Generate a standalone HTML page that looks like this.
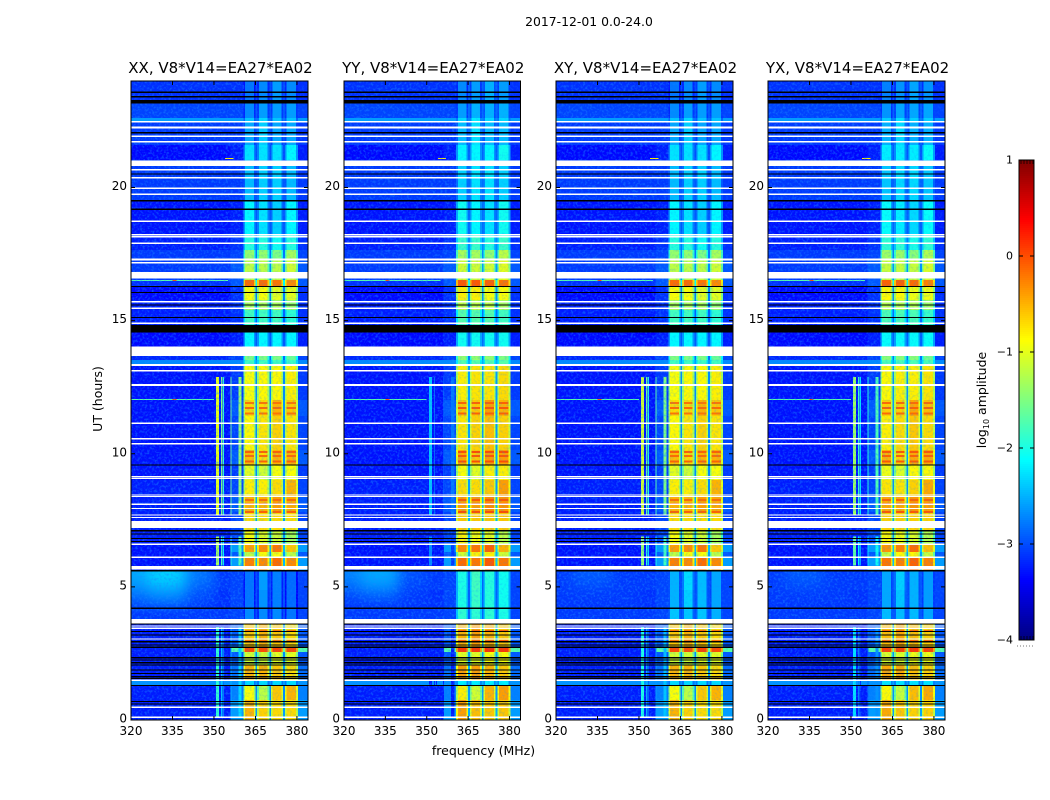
<!DOCTYPE html>
<html>
<head>
<meta charset="utf-8">
<title>2017-12-01 0.0-24.0</title>
<style>
html,body{margin:0;padding:0;background:#fff;}
svg{display:block;font-family:"DejaVu Sans","Liberation Sans",sans-serif;fill:#000;}
</style>
</head>
<body>
<svg id="figure" xmlns="http://www.w3.org/2000/svg" width="1050" height="800" viewBox="0 0 1050 800">
<defs id="defs">
<filter id="speckle" x="0" y="0" width="100%" height="100%" color-interpolation-filters="sRGB">
<feTurbulence type="fractalNoise" baseFrequency="0.42" numOctaves="2" seed="7"/>
<feColorMatrix type="matrix" values="0 0 0 0 0.1  0 0 0 0 0.55  0 0 0 0 1  3.4 0 0 0 -1.55"/>
</filter>
<filter id="soften" x="-20%" y="-20%" width="140%" height="140%" color-interpolation-filters="sRGB">
<feGaussianBlur stdDeviation="7"/>
</filter>
</defs>
<text x="589" y="26" font-size="12.4" text-anchor="middle">2017-12-01 0.0-24.0</text>
<text x="483.500" y="755" font-size="12.500" text-anchor="middle">frequency (MHz)</text>
<text x="0" y="0" font-size="12.500" text-anchor="middle" transform="translate(102,399) rotate(-90)">UT (hours)</text>
<text x="0" y="0" font-size="12.500" text-anchor="middle" transform="translate(986,400) rotate(-90)">log<tspan font-size="8" dy="3">10</tspan><tspan dy="-3"> amplitude</tspan></text>
<g id="panels"></g>
<g id="colorbar"></g>
</svg>
<script>
// ---------- chart data ----------
const panelTitles = ["XX, V8*V14=EA27*EA02", "YY, V8*V14=EA27*EA02", "XY, V8*V14=EA27*EA02", "YX, V8*V14=EA27*EA02"];
const xTickValues = [320, 335, 350, 365, 380];
const yTickValues = [0, 5, 10, 15, 20];
const colorbarTicks = [1, 0, -1, -2, -3, -4];
const colorbarTickLabels = ["1", "0", "\u22121", "\u22122", "\u22123", "\u22124"];

// log10 amplitude per UT band (upper hour of each band; the next entry is its lower hour)
const bandTopHours = [
  24.00, 23.29, 22.61, 22.50, 21.60, 21.03, 19.53, 18.22, 17.65, 17.28,
  16.53, 16.26, 15.77, 15.40, 14.84, 13.67, 13.52, 13.37, 12.02, 11.42,
  10.14, 9.58, 9.01, 8.38, 7.81, 7.14, 6.61, 6.31, 6.08, 5.60,
  4.88, 4.21, 3.61, 2.74, 2.55, 2.07, 1.46, 1.30, 0.75];
const backgroundLevel = [
  -3.15, -3.05, -2.6, -3.1, -3.35, -3.1, -3.3, -3.25, -3.1, -3.1,
  -3.15, -3.35, -3.25, -3.25, -3.35, -3.2, -2.7, -3.3, -3.3, -3.3,
  -3.3, -3.3, -3.25, -3.25, -3.25, -3.25, -3.3, -3.3, -3.3, -3.1,
  -3.15, -3.1, -3.25, -3.25, -3.25, -3.25, -2.65, -3.25, -3.25];
const shoulderLevel = [
  -3.15, -3.05, -2.6, -3.1, -3.25, -3.1, -3.25, -3.15, -3.05, -2.95,
  -2.95, -3.15, -3.15, -3.15, -3.25, -3.05, -2.7, -3.1, -2.95, -3.05,
  -2.95, -3.1, -3.05, -2.95, -3.05, -3.05, -2.6, -2.95, -2.6, -3.05,
  -3.05, -3.05, -2.95, -1.7, -2.95, -2.85, -2.65, -2.75, -2.6];
const coreALevel = [
  -2.8, -2.7, -2.4, -2.55, -2.25, -2.45, -2.15, -1.95, -1.4, -1.2,
  -0.15, -0.9, -1.3, -1.8, -2.15, -1.5, -1.8, -0.9, -0.7, -0.85,
  -0.55, -1.0, -0.8, -0.5, -0.7, -0.9, -0.4, -1.2, -0.25, -2.8,
  -2.8, -2.7, -0.6, 0.0, -1.1, -0.5, -2.3, -0.9, -0.5];
const coreBLevel = [
  -2.7, -2.6, -2.3, -2.35, -2.25, -2.35, -2.25, -1.95, -1.4, -1.2,
  -0.15, -0.9, -1.3, -1.8, -2.15, -1.5, -1.8, -0.85, -0.7, -0.75,
  -0.7, -1.1, -0.8, -0.5, -0.7, -1.0, -0.3, -0.9, -0.3, -2.6,
  -2.65, -2.7, -0.5, 0.0, -1.1, -0.5, -2.3, -1.2, -0.65];
const coreCLevel = [
  -2.6, -2.6, -2.4, -2.55, -2.25, -2.35, -2.35, -2.05, -1.5, -1.2,
  -0.2, -1.0, -1.3, -1.8, -2.15, -1.5, -1.8, -0.85, -0.5, -0.65,
  -0.5, -0.9, -0.7, -0.4, -0.7, -1.1, -0.2, -0.9, -0.15, -2.75,
  -2.75, -2.7, -0.6, 0.05, -1.0, -0.6, -2.3, -0.6, -0.7];
const coreDLevel = [
  -2.7, -2.6, -2.4, -2.55, -2.15, -2.45, -2.15, -1.95, -1.3, -1.1,
  -0.3, -1.0, -1.4, -1.9, -2.15, -1.6, -1.8, -0.8, -0.6, -0.75,
  -0.5, -0.9, -0.5, -0.45, -0.7, -1.3, -0.6, -1.2, -0.3, -2.85,
  -2.85, -2.8, -0.7, 0.0, -1.0, -0.7, -2.3, -0.5, -0.7];
const gapLevel = [
  -3.0, -2.95, -2.8, -2.95, -3.0, -2.95, -2.95, -2.8, -2.8, -2.7,
  -2.1, -2.75, -2.85, -2.9, -2.95, -2.85, -2.6, -2.7, -2.65, -2.7,
  -2.65, -2.7, -2.7, -2.55, -2.6, -2.65, -2.45, -2.6, -2.45, -3.0,
  -3.0, -3.0, -2.65, -1.6, -2.7, -2.6, -2.6, -2.7, -2.6];

// per-correlation offsets (XX, YY, XY, YX)
const panelCoreOffset = [0, 0.1, 0, 0.05];
const panelRfiOffset = [0, -1.4, -0.1, -0.35];
const panelGlowOffset = [0, -0.2, -0.6, -0.6];
const panelQuietCoreOffset = [0, 0.7, 0.3, 0.2];
const quietBandFirst = 29;
const quietBandLast = 31;

// bright horizontal stripes across the four core channels
const stripeHours = [11.95, 11.75, 11.55, 10.1, 9.95, 9.75, 8.3, 8.15, 7.85, 3.38, 3.0];
const stripeLevel = [-0.2, -0.15, -0.2, -0.1, -0.15, -0.1, -0.15, -0.15, -0.1, -0.2, -0.2];

// low-frequency glow around 5 h
const glowFreqLow = [310, 326, 340];
const glowFreqHigh = [326, 340, 350];
const glowHourTop = [6.2, 5.0, 4.5];
const glowHourBottom = [5.0, 4.5, 4.21];
const glowUpperLevel = [-2.55, -2.35, -2.8];
const glowMiddleLevel = [-2.8, -2.65, -3.0];
const glowLowerLevel = [-3.0, -2.9, -3.05];

// narrow vertical interference lines
const rfiFreqLow = [350.8, 352.6, 353.3, 355.9, 358.8];
const rfiFreqHigh = [351.9, 353.0, 353.6, 356.2, 360.0];
const rfiLevel = [-1.0, -1.5, -1.9, -1.6, -1.4];
const rfiSegmentTop = [12.88, 6.9, 3.5];
const rfiSegmentBottom = [7.7, 5.8, 0.1];
const rfiSegmentGain = [0, -0.3, -0.9];

// narrow horizontal interference
const burstHour = [21.1, 16.53, 16.53, 12.06, 12.06];
const burstFreqLow = [354, 320, 335, 320, 335];
const burstFreqHigh = [357, 355, 336.5, 350, 336.5];
const burstLevel = [-0.8, -1.7, 0.0, -1.7, 0.0];

// flagged integrations: blank (white) and zero (black)
const blankHours = [
  22.47, 22.26, 21.93, 21.71, 20.91, 20.66, 20.37, 19.97, 19.74, 18.73,
  18.22, 18.15, 17.90, 17.30, 17.18, 16.71, 15.71, 15.46, 14.90, 13.85,
  13.34, 13.11, 12.60, 12.56, 11.14, 10.57, 10.37, 9.14, 9.08, 8.45,
  8.39, 8.11, 7.95, 7.70, 7.61, 7.34, 6.60, 6.11, 5.72, 3.71,
  3.53, 3.44, 3.04, 1.50, 0.48, 0.10];
const blankSpans = [
  0.056, 0.075, 0.056, 0.056, 0.2, 0.056, 0.056, 0.056, 0.056, 0.056,
  0.056, 0.04, 0.056, 0.075, 0.056, 0.25, 0.056, 0.056, 0.056, 0.35,
  0.075, 0.056, 0.04, 0.04, 0.056, 0.056, 0.056, 0.04, 0.04, 0.04,
  0.04, 0.056, 0.04, 0.04, 0.04, 0.27, 0.056, 0.056, 0.125, 0.16,
  0.05, 0.05, 0.05, 0.056, 0.056, 0.05];
const zeroHours = [
  23.58, 23.41, 23.22, 22.06, 20.51, 19.50, 19.18, 16.28, 16.06, 15.59,
  15.12, 14.69, 9.58, 7.11, 6.99, 6.82, 6.70, 5.60, 4.20, 3.61,
  3.32, 3.19, 2.94, 2.82, 2.73, 2.34, 2.25, 2.15, 2.07, 1.88,
  1.75, 1.63, 1.57, 1.30, 0.69, 0.60];
const zeroSpans = [
  0.045, 0.045, 0.125, 0.045, 0.045, 0.045, 0.045, 0.045, 0.045, 0.045,
  0.045, 0.29, 0.045, 0.045, 0.045, 0.045, 0.045, 0.056, 0.045, 0.045,
  0.045, 0.045, 0.045, 0.045, 0.045, 0.045, 0.045, 0.045, 0.045, 0.045,
  0.045, 0.045, 0.045, 0.045, 0.045, 0.045];

// ---------- layout and scales ----------
const SVGNS = "http://www.w3.org/2000/svg";
const FREQ_MIN = 320, FREQ_MAX = 384, HOUR_MAX = 24;
const PLOT_TOP = 81, PLOT_BOTTOM = 720;
const panelLeftEdge = [131, 344, 556, 768];
const panelRightEdge = [308, 520.5, 733, 945];
const CBAR_LEFT = 1019, CBAR_RIGHT = 1034, CBAR_TOP = 160, CBAR_BOTTOM = 640;
const LEVEL_MIN = -4, LEVEL_MAX = 1;
const CORE_EDGE_MHZ = 360.7;
const FRINGE_MHZ = 0.6;
const FRINGE_DROP = 0.5;
const GLOW_CLIP_TOP = 5.6, GLOW_CLIP_BOTTOM = 4.0;

function xScale(p, mhz) {
  return panelLeftEdge[p] + (mhz - FREQ_MIN) / (FREQ_MAX - FREQ_MIN) * (panelRightEdge[p] - panelLeftEdge[p]);
}
function yScale(hour) {
  return PLOT_BOTTOM - hour / HOUR_MAX * (PLOT_BOTTOM - PLOT_TOP);
}
function cbarScale(level) {
  return CBAR_BOTTOM - (level - LEVEL_MIN) / (LEVEL_MAX - LEVEL_MIN) * (CBAR_BOTTOM - CBAR_TOP);
}
function clip01(v) { return Math.max(0, Math.min(1, v)); }
function jet(level) {
  const f = clip01((level - LEVEL_MIN) / (LEVEL_MAX - LEVEL_MIN));
  const r = clip01(1.5 - Math.abs(4 * f - 3));
  const g = clip01(1.5 - Math.abs(4 * f - 2));
  const b = clip01(1.5 - Math.abs(4 * f - 1));
  return "rgb(" + Math.round(r * 255) + "," + Math.round(g * 255) + "," + Math.round(b * 255) + ")";
}
function make(tag, attrs, parent) {
  const node = document.createElementNS(SVGNS, tag);
  for (const k in attrs) node.setAttribute(k, attrs[k]);
  parent.appendChild(node);
  return node;
}
function box(parent, x0, x1, y0, y1, fill) {
  return make("rect", { x: x0, y: y0, width: Math.max(x1 - x0, 0), height: Math.max(y1 - y0, 0), fill: fill, "shape-rendering": "crispEdges" }, parent);
}
function bandIndexAt(hour) {
  let index = 0;
  bandTopHours.forEach(function (top, b) { if (hour <= top) index = b; });
  return index;
}

// frequency columns of the heat map
const columnFreqLow = [320, 356, 360.7, 365, 365.6, 370, 370.6, 375, 375.6, 380.3];
const columnFreqHigh = [356, 360.7, 365, 365.6, 370, 370.6, 375, 375.6, 380.3, 384];
const columnSource = [backgroundLevel, shoulderLevel, coreALevel, gapLevel, coreBLevel, gapLevel, coreCLevel, gapLevel, coreDLevel, shoulderLevel];
const columnIsCore = [false, false, true, true, true, true, true, true, true, false];
const columnIsChannel = [false, false, true, false, true, false, true, false, true, false];

const panelsRoot = document.getElementById("panels");
const defsRoot = document.getElementById("defs");

panelTitles.forEach(function (titleText, p) {
  const panel = make("g", {}, panelsRoot);
  
  

  const heat = make("g", {}, panel);
  
  

  // bands
  bandTopHours.forEach(function (top, b) {
    const bottom = b + 1 < bandTopHours.length ? bandTopHours[b + 1] : 0;
    const quiet = b >= quietBandFirst && b <= quietBandLast;
    columnFreqLow.forEach(function (low, c) {
      let level = columnSource[c][b];
      if (columnIsCore[c]) level += panelCoreOffset[p];
      if (columnIsChannel[c] && quiet) level += panelQuietCoreOffset[p];
      const cell = box(heat, xScale(p, low), xScale(p, columnFreqHigh[c]), yScale(top), yScale(bottom), jet(level));
      
      
      // channels roll off towards their edges
      if (columnIsChannel[c]) {
        const fringeColour = jet(level - FRINGE_DROP);
        const leftFringe = box(heat, xScale(p, low), xScale(p, low + FRINGE_MHZ), yScale(top), yScale(bottom), fringeColour);
        
        
        const rightFringe = box(heat, xScale(p, columnFreqHigh[c] - FRINGE_MHZ), xScale(p, columnFreqHigh[c]), yScale(top), yScale(bottom), fringeColour);
        
        
      }
    });
  });

  // bright stripes in the core channels
  stripeHours.forEach(function (hour, s) {
    const y = yScale(hour);
    columnFreqLow.forEach(function (low, c) {
      if (!columnIsChannel[c]) return;
      const stripe = box(heat, xScale(p, low + FRINGE_MHZ), xScale(p, columnFreqHigh[c] - FRINGE_MHZ), y, y + 2, jet(stripeLevel[s] + panelCoreOffset[p]));
      
      
    });
  });

  // soft glow near 5 h
  const glowClip = make("clipPath", { id: "glow-clip-" + p }, defsRoot);
  make("rect", { x: panelLeftEdge[p], y: yScale(GLOW_CLIP_TOP), width: xScale(p, 352) - panelLeftEdge[p], height: yScale(GLOW_CLIP_BOTTOM) - yScale(GLOW_CLIP_TOP) }, glowClip);
  const glowClipGroup = make("g", { "clip-path": "url(#glow-clip-" + p + ")" }, heat);
  
  
  const glowGroup = make("g", { filter: "url(#soften)" }, glowClipGroup);
  const glowRows = [glowUpperLevel, glowMiddleLevel, glowLowerLevel];
  glowRows.forEach(function (rowLevels, row) {
    glowFreqLow.forEach(function (low, g) {
      const level = Math.max(rowLevels[g] + panelGlowOffset[p], backgroundLevel[quietBandFirst]);
      const glow = box(glowGroup, xScale(p, low), xScale(p, glowFreqHigh[g]), yScale(glowHourTop[row]), yScale(glowHourBottom[row]), jet(level));
      
      
    });
  });

  // vertical interference
  rfiFreqLow.forEach(function (low, r) {
    rfiSegmentTop.forEach(function (top, s) {
      const floor = backgroundLevel[bandIndexAt(top)];
      const level = Math.max(rfiLevel[r] + rfiSegmentGain[s] + panelRfiOffset[p], floor);
      const line = box(heat, xScale(p, low), Math.max(xScale(p, rfiFreqHigh[r]), xScale(p, low) + 1), yScale(top), yScale(rfiSegmentBottom[s]), jet(level));
      
      
    });
  });

  // horizontal interference
  burstHour.forEach(function (hour, h) {
    const y = yScale(hour);
    const burst = box(heat, xScale(p, burstFreqLow[h]), xScale(p, burstFreqHigh[h]), y, y + 1, jet(burstLevel[h]));
    
    
  });

  // speckle texture: strong over the quiet background, fainter over the core
  const speckleLow = make("rect", { x: panelLeftEdge[p], y: PLOT_TOP, width: xScale(p, CORE_EDGE_MHZ) - panelLeftEdge[p], height: PLOT_BOTTOM - PLOT_TOP, filter: "url(#speckle)", opacity: 0.45 }, panel);
  
  
  const speckleHigh = make("rect", { x: xScale(p, CORE_EDGE_MHZ), y: PLOT_TOP, width: panelRightEdge[p] - xScale(p, CORE_EDGE_MHZ), height: PLOT_BOTTOM - PLOT_TOP, filter: "url(#speckle)", opacity: 0.22 }, panel);
  
  

  // flags
  blankHours.forEach(function (hour, i) {
    const half = blankSpans[i] / 2;
    const flag = box(panel, panelLeftEdge[p], panelRightEdge[p], yScale(hour + half), yScale(hour - half), "#fff");
    
    
  });
  zeroHours.forEach(function (hour, i) {
    const half = zeroSpans[i] / 2;
    const flag = box(panel, panelLeftEdge[p], panelRightEdge[p], yScale(hour + half), yScale(hour - half), "#000");
    
    
  });

  // frame
  const frame = make("rect", { x: panelLeftEdge[p], y: PLOT_TOP, width: panelRightEdge[p] - panelLeftEdge[p], height: PLOT_BOTTOM - PLOT_TOP, fill: "none", stroke: "#000", "stroke-width": 1 }, panel);
  
  

  // x ticks
  xTickValues.forEach(function (value) {
    const x = xScale(p, value);
    const bottomTick = make("line", { x1: x, x2: x, y1: PLOT_BOTTOM, y2: PLOT_BOTTOM - 4, stroke: "#000" }, panel);
    
    
    const topTick = make("line", { x1: x, x2: x, y1: PLOT_TOP, y2: PLOT_TOP + 4, stroke: "#000" }, panel);
    
    
    const label = make("text", { x: x, y: 735, "font-size": 12, "text-anchor": "middle" }, panel);
    
    
    label.textContent = String(value);
  });

  // y ticks
  yTickValues.forEach(function (value) {
    const y = yScale(value);
    const leftTick = make("line", { x1: panelLeftEdge[p], x2: panelLeftEdge[p] + 4, y1: y, y2: y, stroke: "#000" }, panel);
    
    
    const rightTick = make("line", { x1: panelRightEdge[p], x2: panelRightEdge[p] - 4, y1: y, y2: y, stroke: "#000" }, panel);
    
    
    const label = make("text", { x: panelLeftEdge[p] - 4, y: y + 2.5, "font-size": 12, "text-anchor": "end" }, panel);
    
    
    label.textContent = String(value);
  });

  // title
  const title = make("text", { x: (panelLeftEdge[p] + panelRightEdge[p]) / 2 + 1, y: 73, "font-size": 15, "text-anchor": "middle" }, panel);
  
  
  title.textContent = titleText;
});

// ---------- colorbar ----------
const colorbarRoot = document.getElementById("colorbar");
for (let y = CBAR_TOP; y < CBAR_BOTTOM; y += 2) {
  const level = LEVEL_MAX - (y + 1 - CBAR_TOP) / (CBAR_BOTTOM - CBAR_TOP) * (LEVEL_MAX - LEVEL_MIN);
  const swatch = box(colorbarRoot, CBAR_LEFT, CBAR_RIGHT, y, y + 2, jet(level));
  
  
}
const cbarFrame = make("rect", { x: CBAR_LEFT, y: CBAR_TOP, width: CBAR_RIGHT - CBAR_LEFT, height: CBAR_BOTTOM - CBAR_TOP, fill: "none", stroke: "#000" }, colorbarRoot);


colorbarTicks.forEach(function (value, i) {
  const y = cbarScale(value);
  const leftTick = make("line", { x1: CBAR_LEFT, x2: CBAR_LEFT + 4, y1: y, y2: y, stroke: "#000" }, colorbarRoot);
  
  
  const rightTick = make("line", { x1: CBAR_RIGHT, x2: CBAR_RIGHT - 4, y1: y, y2: y, stroke: "#000" }, colorbarRoot);
  
  
  const label = make("text", { x: 1013, y: y + 3.500, "font-size": 11, "text-anchor": "end" }, colorbarRoot);
  
  
  label.textContent = colorbarTickLabels[i];
});
for (let x = CBAR_LEFT + 2; x < CBAR_RIGHT; x += 3) {
  const topMark = make("line", { x1: x, x2: x, y1: CBAR_TOP, y2: CBAR_TOP + 4, stroke: "#000", "stroke-width": 0.7 }, colorbarRoot);
  
  
  const bottomMark = make("line", { x1: x, x2: x, y1: CBAR_BOTTOM, y2: CBAR_BOTTOM - 4, stroke: "#000", "stroke-width": 0.7 }, colorbarRoot);
  
  
}
const cbarDots = make("line", { x1: 1017, x2: 1035, y1: 646, y2: 646, stroke: "#777", "stroke-width": 1, "stroke-dasharray": "1 2" }, colorbarRoot);


</script>
</body>
</html>
